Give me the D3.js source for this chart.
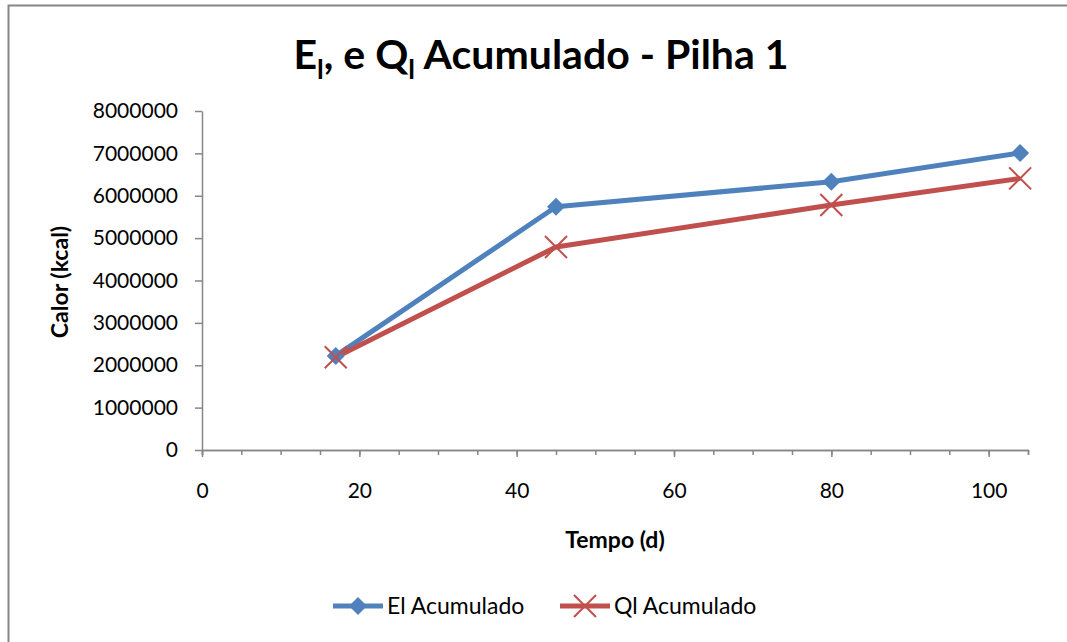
<!DOCTYPE html>
<html>
<head>
<meta charset="utf-8">
<script src="https://cdn.jsdelivr.net/npm/d3@7"></script>
<style>
  body { margin: 0; background: #fff; }
  text { font-family: Lato, "Open Sans", sans-serif; fill: #000; }
</style>
</head>
<body>
<div id="chart-area"></div>
<script>
var width = 1067,
	height = 642;

var margin = {top: 111, right: 39, bottom: 192, left: 202};

// data
var dias = [17, 45, 80, 104];
var elAcumulado = [2220000, 5740000, 6330000, 7010000];
var qlAcumulado = [2190000, 4790000, 5780000, 6410000];
var xTicks = [0, 20, 40, 60, 80, 100];
var yTicks = [0, 1000000, 2000000, 3000000, 4000000, 5000000, 6000000, 7000000, 8000000];
var seriesNames = ["El Acumulado", "Ql Acumulado"];

var svg = d3.select("#chart-area").append("svg")
	.attr("width", width)
	.attr("height", height);

// chart border (only left and top visible)
svg.append("path")
	.attr("d", "M8.5,642 L8.5,5.5 L1067,5.5")
	.attr("fill", "none")
	.attr("stroke", "#868686")
	.attr("stroke-width", 2);

var plotW = width - margin.left - margin.right,
	plotH = height - margin.top - margin.bottom;

var x = d3.scaleLinear().domain([0, 105]).range([0, plotW]);
var y = d3.scaleLinear().domain([0, 8000000]).range([plotH, 0]);

var g = svg.append("g").attr("transform", "translate(" + margin.left + "," + margin.top + ")");

// y axis
var yAxis = g.append("g")
	.call(d3.axisLeft(y).tickValues(yTicks).tickSize(7).tickSizeOuter(0).tickFormat(d3.format("d")).tickPadding(17));
yAxis.selectAll("line, path").attr("stroke", "#868686").attr("stroke-width", 1.5);
yAxis.selectAll("text").style("font-size", "21px").attr("font-family", null);

// x minor ticks
var minor = d3.range(0, 106, 5);
g.append("g")
	.attr("transform", "translate(0," + plotH + ")")
	.call(d3.axisBottom(x).tickValues(minor).tickSize(5).tickFormat(""))
	.selectAll("line, path").attr("stroke", "#868686").attr("stroke-width", 1.5);

// x axis
var xAxis = g.append("g")
	.attr("transform", "translate(0," + plotH + ")")
	.call(d3.axisBottom(x).tickValues(xTicks).tickSize(7).tickSizeOuter(0).tickPadding(26));
xAxis.selectAll("line, path").attr("stroke", "#868686").attr("stroke-width", 1.5);
xAxis.selectAll("text").style("font-size", "21px").attr("font-family", null);

var line = d3.line()
	.x(function(d) { return x(d[0]); })
	.y(function(d) { return y(d[1]); });

var elData = dias.map(function(d, i) { return [d, elAcumulado[i]]; });
var qlData = dias.map(function(d, i) { return [d, qlAcumulado[i]]; });

var blue = "#4F81BD", red = "#C0504D";

g.append("path").datum(elData)
	.attr("fill", "none").attr("stroke", blue).attr("stroke-width", 5)
	.attr("stroke-linejoin", "round").attr("d", line);

g.append("path").datum(qlData)
	.attr("fill", "none").attr("stroke", red).attr("stroke-width", 5)
	.attr("stroke-linejoin", "round").attr("d", line);

function diamond(sel, cx, cy, r) {
	sel.append("path")
		.attr("d", "M" + cx + "," + (cy - r) + " L" + (cx + r) + "," + cy + " L" + cx + "," + (cy + r) + " L" + (cx - r) + "," + cy + "Z")
		.attr("fill", blue);
}
function cross(sel, cx, cy, r) {
	sel.append("path")
		.attr("d", "M" + (cx - r) + "," + (cy - r) + " L" + (cx + r) + "," + (cy + r) + " M" + (cx + r) + "," + (cy - r) + " L" + (cx - r) + "," + (cy + r))
		.attr("stroke", red).attr("stroke-width", 2).attr("fill", "none");
}

elData.forEach(function(d) { diamond(g, x(d[0]), y(d[1]), 9); });
qlData.forEach(function(d) { cross(g, x(d[0]), y(d[1]), 11); });

// title
var title = svg.append("text")
	.attr("x", 541).attr("y", 69)
	.attr("text-anchor", "middle")
	.style("font-size", "41px").style("font-weight", "bold");
title.append("tspan").text("E");
title.append("tspan").attr("dy", 10).style("font-size", "27px").text("l");
title.append("tspan").attr("dy", -10).text(", e Q");
title.append("tspan").attr("dy", 10).style("font-size", "27px").text("l");
title.append("tspan").attr("dy", -10).text(" Acumulado - Pilha 1");

// axis titles
svg.append("text")
	.attr("x", 615).attr("y", 548)
	.attr("text-anchor", "middle")
	.style("font-size", "23px").style("font-weight", "bold")
	.text("Tempo (d)");

svg.append("text")
	.attr("transform", "translate(68,282) rotate(-90)")
	.attr("text-anchor", "middle")
	.style("font-size", "23px").style("font-weight", "bold")
	.text("Calor (kcal)");

// legend
var legendX = [333, 560];
seriesNames.forEach(function(name, i) {
	var lg = svg.append("g").attr("transform", "translate(" + legendX[i] + ",606)");
	lg.append("line").attr("x1", 0).attr("x2", 50).attr("y1", 0).attr("y2", 0)
		.attr("stroke", i == 0 ? blue : red).attr("stroke-width", 5);
	if (i == 0) diamond(lg, 25, 0, 9);
	else cross(lg, 25, 0, 11);
	lg.append("text").attr("x", 54).attr("y", 8)
		.style("font-size", "23px").text(name);
});
</script>
</body>
</html>
